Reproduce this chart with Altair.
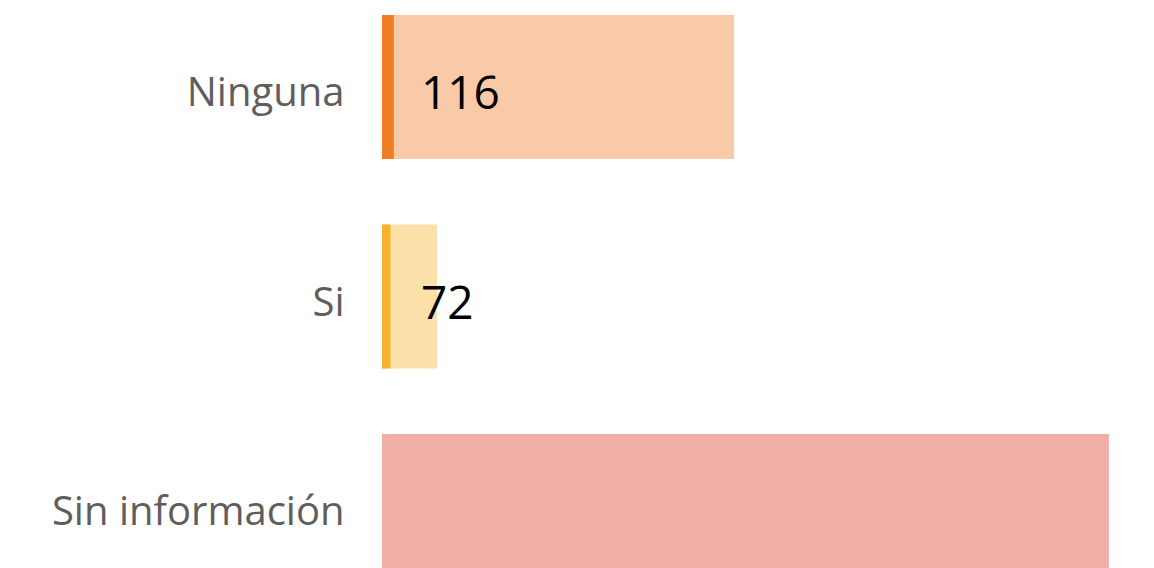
import altair as alt
import pandas as pd

categorias = ["Ninguna", "Si", "Sin información"]
valores = [116, 72, 171.5]
marcador = [65.6, 65.1, 0]
etiquetas = ["116", "72", ""]
colores_claro = ["#F8CAA7", "#FBE0AA", "#F2AFA7"]
colores_oscuro = ["#EF7D24", "#F8B12A", "#F2AFA7"]
x_min, x_max = 63.85, 177.0

df = pd.DataFrame({
    "categoria": categorias,
    "valor": valores,
    "marcador": marcador,
    "etiqueta": etiquetas,
})

y_enc = alt.Y(
    "categoria:N",
    sort=categorias,
    title=None,
    scale=alt.Scale(range=[7, 570], paddingInner=0.3126, paddingOuter=0),
    axis=alt.Axis(labelFontSize=40, labelColor="#605E5C", labelPadding=38,
                  labelOffset=7, ticks=False, domain=False, labelFont="Open Sans",
                  labelLimit=400, labelFontWeight="normal"),
)
x_scale = alt.Scale(domain=[x_min, x_max], zero=False, nice=False)

base = alt.Chart(df)

light = base.mark_bar(clip=True).encode(
    x=alt.X("valor:Q", scale=x_scale, axis=None),
    x2=alt.X2(datum=x_min),
    y=y_enc,
    color=alt.Color("categoria:N", scale=alt.Scale(domain=categorias, range=colores_claro), legend=None),
)

dark = base.transform_filter("datum.marcador > 0").mark_bar(clip=True).encode(
    x=alt.X("marcador:Q", scale=x_scale, axis=None),
    x2=alt.X2(datum=x_min),
    y=y_enc,
    color=alt.Color("categoria:N", scale=alt.Scale(domain=categorias, range=colores_oscuro), legend=None),
)

text = base.transform_filter("datum.etiqueta != ''").mark_text(
    align="left", baseline="middle", dx=39, dy=8, fontSize=46, font="Open Sans", color="black"
).encode(
    x=alt.datum(x_min, scale=x_scale),
    y=y_enc,
    text="etiqueta:N",
)

chart = alt.layer(light, dark, text).resolve_scale(color="independent").properties(
    width=764, height=560,
    autosize=alt.AutoSizeParams(type="none"),
    padding={"left": 374, "top": 0, "right": 0, "bottom": 0},
).configure_view(stroke=None)

chart.save("out.html", embed_options={"renderer": "svg", "actions": False})
